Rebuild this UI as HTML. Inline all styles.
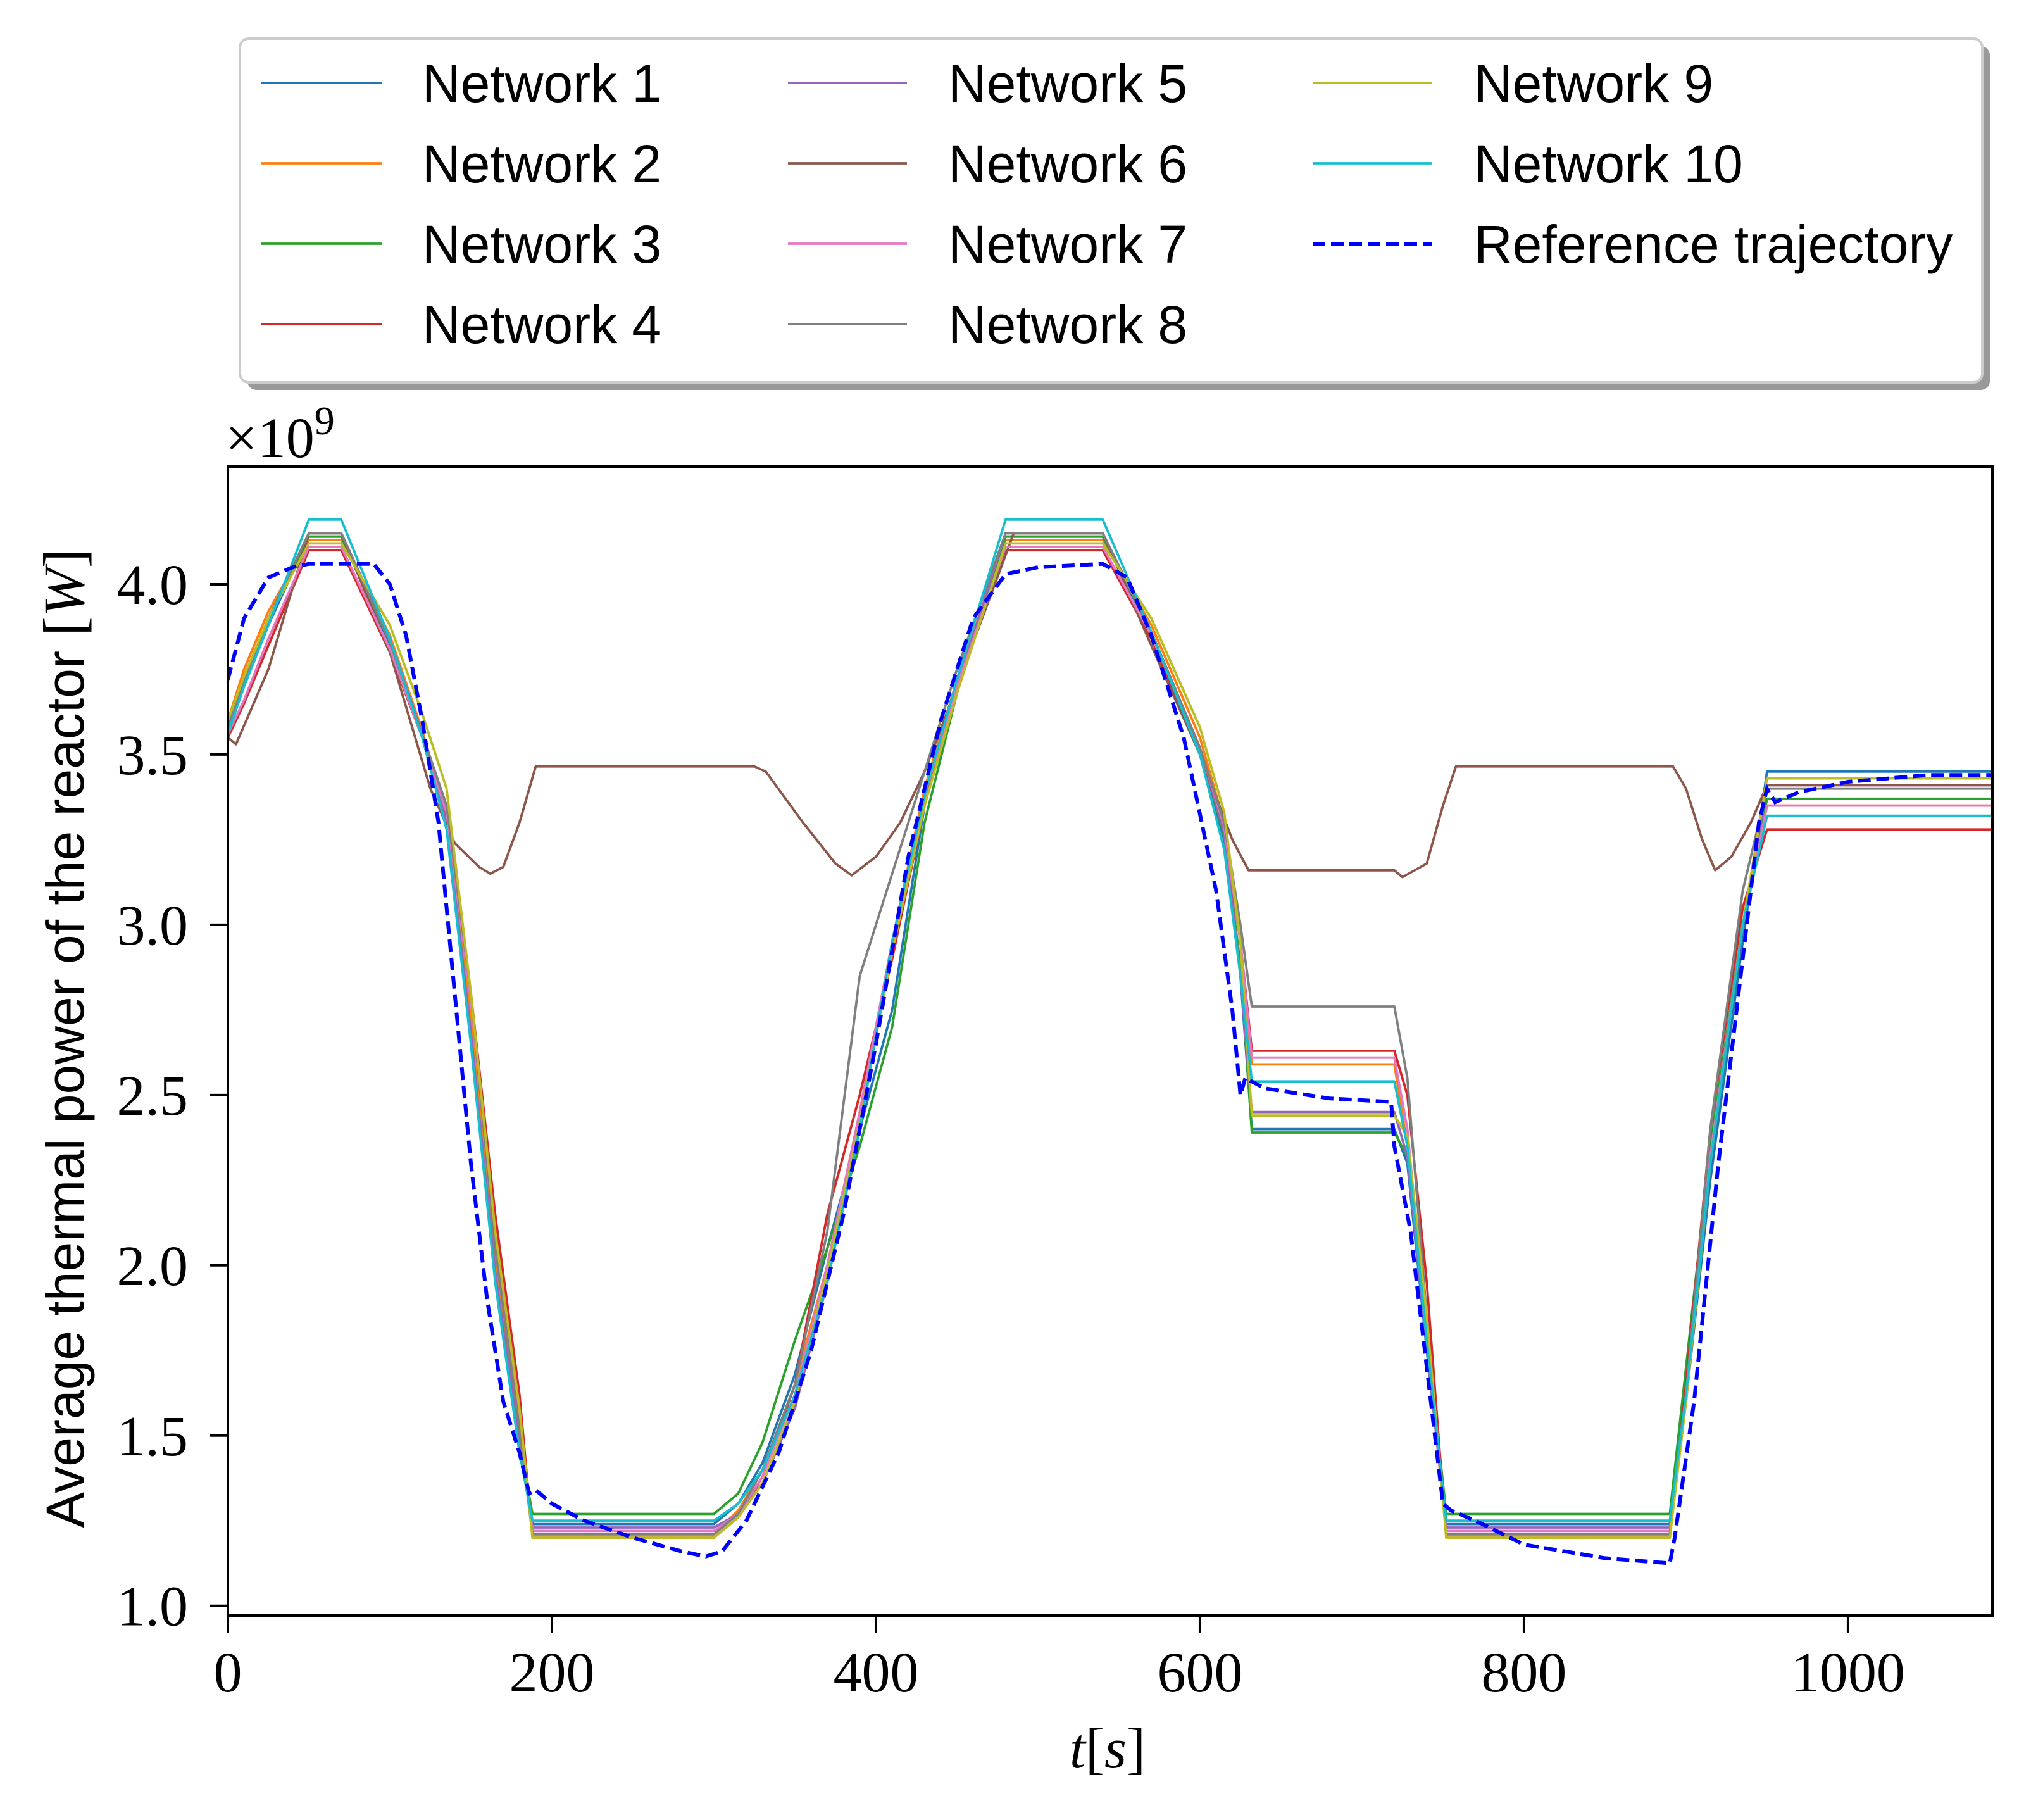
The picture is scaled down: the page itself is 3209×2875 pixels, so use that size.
<!DOCTYPE html>
<html><head><meta charset="utf-8"><style>
html,body{margin:0;padding:0;background:#fff;}
svg{display:block;}
</style></head><body>
<svg id="chart" xmlns="http://www.w3.org/2000/svg" width="3209" height="2875" viewBox="0 0 3209 2875">
<rect x="0" y="0" width="3209" height="2875" fill="#fff"/>
<g id="series"></g>
<g id="axes"></g>
<g id="legend"></g>
</svg>
<script>
const times = [0,10,25,50,70,100,120,135,150,165,180,188,300,315,330,350,370,390,410,430,450,480,540,570,600,615,625,632,720,728,740,752,890,900,915,935,950,1089];
const net1 = [3.58,3.70,3.88,4.14,4.14,3.82,3.55,3.30,2.70,2.00,1.50,1.24,1.24,1.30,1.42,1.68,2.05,2.40,2.75,3.35,3.70,4.14,4.14,3.85,3.50,3.25,2.85,2.40,2.40,2.30,1.75,1.24,1.24,1.60,2.25,2.95,3.45,3.45];
const net2 = [3.60,3.75,3.92,4.13,4.13,3.85,3.57,3.32,2.72,2.02,1.52,1.21,1.21,1.28,1.40,1.65,2.00,2.45,2.95,3.40,3.72,4.13,4.13,3.88,3.55,3.30,2.95,2.59,2.59,2.35,1.78,1.21,1.21,1.62,2.30,3.00,3.35,3.35];
const net3 = [3.58,3.72,3.90,4.14,4.14,3.83,3.56,3.31,2.68,1.98,1.48,1.27,1.27,1.33,1.48,1.78,2.05,2.35,2.70,3.30,3.68,4.14,4.14,3.86,3.52,3.26,2.88,2.39,2.39,2.32,1.80,1.27,1.27,1.70,2.35,3.00,3.37,3.37];
const net4 = [3.55,3.65,3.82,4.10,4.10,3.80,3.55,3.32,2.80,2.15,1.62,1.20,1.20,1.26,1.38,1.65,2.15,2.50,2.90,3.35,3.70,4.10,4.10,3.84,3.50,3.28,2.95,2.63,2.63,2.50,1.95,1.20,1.20,1.65,2.40,3.05,3.28,3.28];
const net5 = [3.58,3.72,3.90,4.15,4.15,3.84,3.56,3.30,2.68,1.98,1.48,1.23,1.23,1.27,1.36,1.58,1.95,2.40,2.95,3.38,3.70,4.15,4.15,3.86,3.52,3.27,2.85,2.45,2.45,2.32,1.76,1.23,1.23,1.60,2.30,3.00,3.41,3.41];
const net7 = [3.56,3.66,3.84,4.11,4.11,3.81,3.55,3.33,2.78,2.08,1.55,1.22,1.22,1.27,1.38,1.62,2.00,2.45,2.95,3.38,3.70,4.11,4.11,3.85,3.52,3.29,2.95,2.61,2.61,2.40,1.80,1.22,1.22,1.62,2.32,3.00,3.35,3.35];
const net8 = [3.58,3.72,3.90,4.15,4.15,3.83,3.56,3.35,2.80,2.05,1.52,1.21,1.21,1.27,1.40,1.65,2.10,2.85,3.15,3.45,3.75,4.15,4.15,3.86,3.52,3.30,3.00,2.76,2.76,2.55,1.85,1.21,1.21,1.62,2.40,3.10,3.40,3.40];
const net9 = [3.60,3.73,3.90,4.12,4.12,3.88,3.62,3.40,2.80,2.10,1.58,1.20,1.20,1.26,1.36,1.60,1.98,2.42,2.92,3.35,3.68,4.12,4.12,3.90,3.58,3.33,2.95,2.44,2.44,2.38,1.85,1.20,1.20,1.60,2.30,3.00,3.43,3.43];
const net10 = [3.56,3.70,3.88,4.19,4.19,3.84,3.55,3.28,2.65,1.95,1.45,1.25,1.25,1.30,1.40,1.62,1.95,2.40,2.95,3.38,3.72,4.19,4.19,3.86,3.50,3.22,2.85,2.54,2.54,2.35,1.78,1.25,1.25,1.62,2.30,3.00,3.32,3.32];
const times6 = [0,5,25,50,70,100,125,140,155,162,170,180,190,325,332,355,375,385,400,415,430,450,485,540,570,600,620,630,720,725,740,750,758,892,900,910,918,928,940,950,1089];
const net6 = [3.55,3.53,3.75,4.15,4.15,3.80,3.40,3.24,3.17,3.15,3.17,3.30,3.465,3.465,3.45,3.30,3.18,3.145,3.20,3.30,3.45,3.70,4.15,4.15,3.82,3.50,3.25,3.16,3.16,3.14,3.18,3.35,3.465,3.465,3.40,3.25,3.16,3.20,3.30,3.41,3.41];
const timesRef = [0,10,25,40,50,90,100,110,120,130,140,150,160,170,180,186,190,200,220,250,280,295,305,320,340,360,380,400,420,440,460,480,500,540,555,570,590,610,620,625,628,640,680,718,720,730,740,750,755,770,800,850,890,893,905,920,935,945,950,955,970,1000,1050,1089];
const refVals = [3.72,3.90,4.02,4.05,4.06,4.06,4.00,3.85,3.60,3.30,2.80,2.30,1.90,1.60,1.45,1.33,1.34,1.30,1.25,1.20,1.16,1.145,1.16,1.25,1.45,1.75,2.15,2.65,3.20,3.60,3.90,4.03,4.05,4.06,4.02,3.85,3.55,3.10,2.75,2.50,2.55,2.52,2.49,2.48,2.35,2.10,1.70,1.30,1.28,1.25,1.18,1.14,1.125,1.20,1.60,2.30,2.90,3.30,3.40,3.36,3.39,3.42,3.44,3.44];
const seriesNames = ["Network 1","Network 2","Network 3","Network 4","Network 5","Network 6","Network 7","Network 8","Network 9","Network 10","Reference trajectory"];
const xTicks = [0,200,400,600,800,1000];
const yTicks = [1.0,1.5,2.0,2.5,3.0,3.5,4.0];
const yTickLabels = ["1.0","1.5","2.0","2.5","3.0","3.5","4.0"];

const NS="http://www.w3.org/2000/svg";
const L=360,R=3148,T=737,B=2552;
const xMin=0,xMax=1089.1,yMin=0.9716,yMax=4.3457;
function sx(v){return L+(v-xMin)/(xMax-xMin)*(R-L);}
function sy(v){return B-(v-yMin)/(yMax-yMin)*(B-T);}
function mk(tag,attrs,parent){const e=document.createElementNS(NS,tag);for(const k in attrs)e.setAttribute(k,attrs[k]);parent.appendChild(e);return e;}

const svg=document.getElementById('chart');
const defs=mk('defs',{},svg);
const cp=mk('clipPath',{id:'clip'},defs);
mk('rect',{x:L,y:T,width:R-L,height:B-T},cp);

const sg=document.getElementById('series');
sg.setAttribute('clip-path','url(#clip)');
const colors=["#1f77b4","#ff7f0e","#2ca02c","#d62728","#9467bd","#8c564b","#e377c2","#7f7f7f","#bcbd22","#17becf"];
const seriesData=[[times,net1],[times,net2],[times,net3],[times,net4],[times,net5],[times6,net6],[times,net7],[times,net8],[times,net9],[times,net10]];
seriesData.forEach((sd,i)=>{
  const d=sd[0].map((t,j)=>(j?'L':'M')+sx(t).toFixed(1)+','+sy(sd[1][j]).toFixed(1)).join(' ');
  const p=mk('path',{d:d,fill:'none',stroke:colors[i],'stroke-width':3.8,'stroke-linejoin':'round'},sg);
  
  
});
{
  const d=timesRef.map((t,j)=>(j?'L':'M')+sx(t).toFixed(1)+','+sy(refVals[j]).toFixed(1)).join(' ');
  const p=mk('path',{d:d,fill:'none',stroke:'#0000ff','stroke-width':6,'stroke-dasharray':'20 9'},sg);
  
  
}

const ax=document.getElementById('axes');
const frame=mk('rect',{x:L,y:T,width:R-L,height:B-T,fill:'none',stroke:'#000','stroke-width':4},ax);


xTicks.forEach(v=>{
  const x=sx(v);
  const t=mk('line',{x1:x,y1:B,x2:x,y2:B+28,stroke:'#000','stroke-width':4},ax);
  
  
  const lb=mk('text',{x:x,y:2672,'text-anchor':'middle','font-family':'"Liberation Serif",serif','font-size':90},ax);
  lb.textContent=String(v);
  
  
});
yTicks.forEach((v,i)=>{
  const y=sy(v);
  const t=mk('line',{x1:L-28,y1:y,x2:L,y2:y,stroke:'#000','stroke-width':4},ax);
  
  
  const lb=mk('text',{x:297,y:y+31,'text-anchor':'end','font-family':'"Liberation Serif",serif','font-size':90},ax);
  lb.textContent=yTickLabels[i];
  
  
});
const off=mk('text',{x:356,y:722,'font-family':'"Liberation Serif",serif','font-size':90},ax);


off.innerHTML='×10<tspan dy="-36" font-size="64">9</tspan>';
const yl=mk('text',{x:0,y:0,'text-anchor':'middle','font-family':'"Liberation Sans",sans-serif','font-size':84,transform:'translate(132,1640) rotate(-90)'},ax);


yl.innerHTML='Average thermal power of the reactor <tspan font-family="Liberation Serif, serif" font-size="92">[<tspan font-style="italic">W</tspan>]</tspan>';
const xl=mk('text',{x:1750,y:2792,'text-anchor':'middle','font-family':'"Liberation Serif",serif','font-size':90},ax);


xl.innerHTML='<tspan font-style="italic">t</tspan>[<tspan font-style="italic">s</tspan>]';

const lg=document.getElementById('legend');
const sh=mk('rect',{x:391,y:73,width:2753,height:543,rx:14,fill:'#999'},lg);


const box=mk('rect',{x:379,y:61,width:2753,height:543,rx:14,fill:'#fff',stroke:'#ccc','stroke-width':4},lg);


const colX=[[413,604,667],[1245,1433,1498],[2074,2262,2329]];
const rowY=[131,258,385,512];
seriesNames.forEach((n,i)=>{
  const c=Math.floor(i/4),r=i%4;
  const g=mk('g',{},lg);
  
  
  const isRef=i===10;
  mk('line',{x1:colX[c][0],y1:rowY[r],x2:colX[c][1],y2:rowY[r],stroke:isRef?'#0000ff':colors[i],'stroke-width':isRef?6:3.8,'stroke-dasharray':isRef?'20 9':'none'},g);
  const t=mk('text',{x:colX[c][2],y:rowY[r]+30,'font-family':'"Liberation Sans",sans-serif','font-size':84},g);
  t.textContent=n;
});
</script>
</body></html>
